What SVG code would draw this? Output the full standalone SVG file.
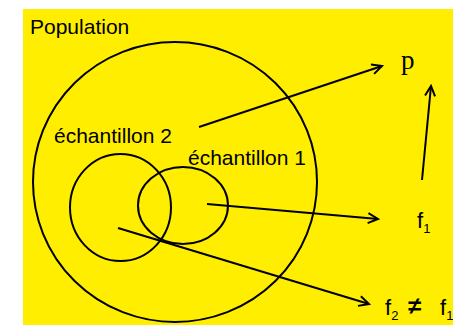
<svg xmlns="http://www.w3.org/2000/svg" width="453" height="325" viewBox="0 0 453 325">
<style>
.c{fill:none;stroke:#000;stroke-width:2}
.a{fill:none;stroke:#000;stroke-width:2;marker-end:url(#ah)}
.t{font-family:"Liberation Sans",Arial,sans-serif;fill:#000}
.s{font-family:"Liberation Serif","Times New Roman",serif;fill:#000}
</style>
<defs>
<marker id="ah" markerUnits="userSpaceOnUse" markerWidth="14" markerHeight="14" viewBox="0 0 14 14" refX="12" refY="7" orient="auto">
<path d="M2,2 L12,7 L2,12" fill="none" stroke="#000" stroke-width="2"/>
</marker>
</defs>
<rect x="23" y="9" width="430" height="316" fill="#FFEE00"/>
<g id="population">
<ellipse class="c" cx="175" cy="182" rx="142" ry="140"/>
<text class="t" x="30" y="34" font-size="21">Population</text>
</g>
<g id="echantillon2">
<ellipse class="c" cx="120.5" cy="207.5" rx="50.5" ry="53.5"/>
<text class="t" x="54" y="143" font-size="21">échantillon 2</text>
</g>
<g id="echantillon1">
<ellipse class="c" cx="183" cy="205.5" rx="45" ry="38.5"/>
<text class="t" x="188" y="165" font-size="21">échantillon 1</text>
</g>
<g id="p"><text class="s" x="401" y="69" font-size="27">p</text></g>
<g id="f1"><text class="t" x="417" y="228" font-size="22">f<tspan font-size="13" dy="5">1</tspan></text></g>
<g id="f2">
<text class="t" x="385" y="315" font-size="22">f<tspan font-size="13" dy="5">2</tspan></text>
<text class="t" x="408" y="314" font-size="24" font-weight="bold">≠</text>
<text class="t" x="440" y="315" font-size="22">f<tspan font-size="13" dy="5">1</tspan></text>
</g>
<g id="connectors">
<line class="a" x1="199" y1="127" x2="382" y2="66"/>
<line class="a" x1="207" y1="204" x2="378" y2="219"/>
<line class="a" x1="118" y1="228" x2="369" y2="304"/>
<line class="a" x1="422" y1="180" x2="431" y2="86"/>
</g>
</svg>
